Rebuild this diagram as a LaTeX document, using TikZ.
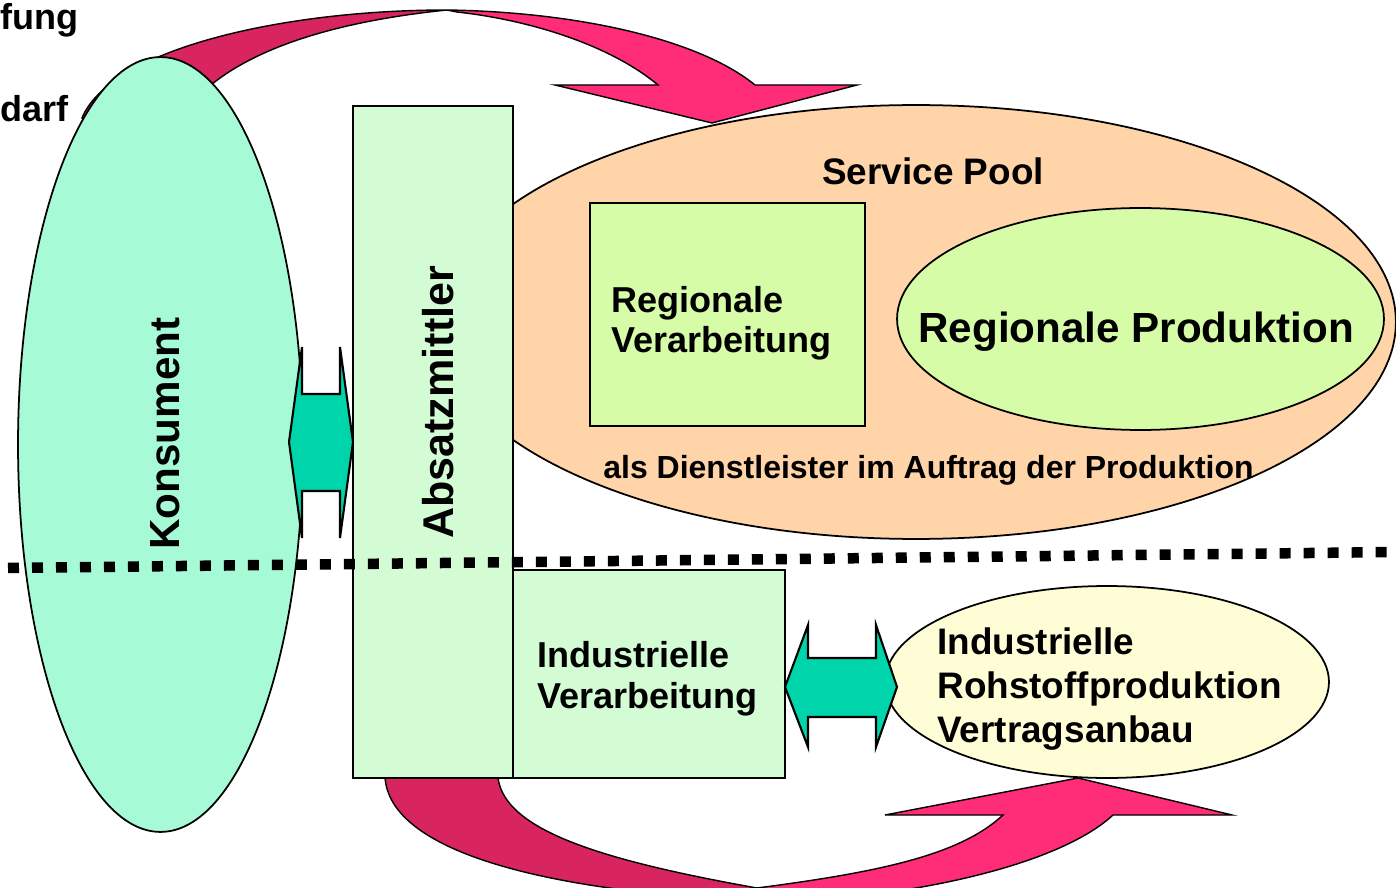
\documentclass[tikz,border=0pt]{standalone}
\usepackage{fontspec}
\setmainfont{Liberation Sans}
\usepackage{tikz}
\usetikzlibrary{shapes.geometric}
\definecolor{mint}{HTML}{A6FAD6}
\definecolor{palegreen}{HTML}{D4FCD4}
\definecolor{peach}{HTML}{FFD4A8}
\definecolor{limegreen}{HTML}{D6FCA8}
\definecolor{paleyellow}{HTML}{FFFDD6}
\definecolor{arrowteal}{HTML}{00D4AA}
\definecolor{flowpink}{HTML}{FF2C78}
\definecolor{flowdark}{HTML}{D8245F}

\begin{document}
\begin{tikzpicture}[
  x=0.02cm, y=-0.02cm,
  box/.style={draw, line width=0.8pt, inner sep=0pt, outer sep=0pt},
  oval/.style={ellipse, draw, line width=1pt, inner sep=0pt, outer sep=0pt},
  lbl/.style={inner sep=0pt, align=left, anchor=base west},
  txtS/.style={font=\fontsize{18.2}{21}\selectfont\bfseries},
  txtM/.style={font=\fontsize{20.5}{22.8}\selectfont\bfseries},
  txtL/.style={font=\fontsize{24}{28}\selectfont\bfseries},
  flowback/.style={draw, line width=0.8pt, fill=flowdark},
  flowfront/.style={draw, line width=0.8pt, fill=flowpink},
  blockarrow/.style={draw, line width=1.2pt, fill=arrowteal},
  sepline/.style={line width=0.21cm, dash pattern=on 0.22cm off 0.26cm},
]
\useasboundingbox (0,0) rectangle (1396,888);
\clip (0,0) rectangle (1396,888);

% upper flow arrow: back face, then front with head
\draw[flowback] (82,118) .. controls (110,50) and (280,10) .. (447,10)
  .. controls (330,22) and (250,50) .. (205,90) -- (160,150) -- cycle;
\draw[flowfront] (447,10) .. controls (580,12) and (700,40) .. (755,85)
  -- (857,85) -- (712,123) -- (555,85) -- (658,85)
  .. controls (610,45) and (530,20) .. (457,12) -- cycle;

% lower flow arrow
\draw[flowback] (385,770) -- (385,778) .. controls (390,840) and (500,880) .. (680,896)
  -- (780,900) -- (757,888) .. controls (600,860) and (505,830) .. (498,778) -- (498,770) -- cycle;
\draw[flowfront] (740,900) -- (757,888) .. controls (880,872) and (960,855) .. (1003,815)
  -- (885,815) -- (1078,778) -- (1232,815) -- (1113,815)
  .. controls (1070,855) and (960,890) .. (800,902) -- cycle;

% main blocks
\node[oval, fill=peach, minimum width=19.2cm, minimum height=8.68cm] (pool) at (916,322) {};
\node[oval, fill=mint, minimum width=5.7cm, minimum height=15.5cm] (konsument) at (160.5,444.5) {};
\node[box, fill=palegreen, minimum width=3.2cm, minimum height=13.44cm] (absatz) at (433,442) {};
\node[box, fill=limegreen, minimum width=5.5cm, minimum height=4.46cm] (regverarb) at (727.5,314.5) {};
\node[oval, fill=limegreen, minimum width=9.74cm, minimum height=4.44cm] (regprod) at (1140.5,319) {};
\node[box, fill=palegreen, minimum width=5.44cm, minimum height=4.16cm] (indverarb) at (649,674) {};
\node[oval, fill=paleyellow, minimum width=8.88cm, minimum height=3.84cm] (rohstoff) at (1107,682) {};

% labels (base = last line)
\node[lbl, txtM] (fung) at (0,30) {fung};
\node[lbl, txtM] (darf) at (0,122) {darf};
\node[lbl, font=\fontsize{21}{25}\selectfont\bfseries] (poollbl) at (822,185) {Service Pool};
\node[lbl, txtM] (regverarblbl) at (611,353) {Regionale\\Verarbeitung};
\node[lbl, txtL] (regprodlbl) at (918,343) {Regionale Produktion};
\node[lbl, txtS] (dienstlbl) at (603,478) {als Dienstleister im Auftrag der Produktion};
\node[lbl, txtL, rotate=90] (konsumentlbl) at (179,550) {Konsument};
\node[lbl, font=\fontsize{24.5}{28}\selectfont\bfseries, rotate=90] (absatzlbl) at (453,539) {Absatzmittler};
\node[lbl, txtM] (indverarblbl) at (537,708) {Industrielle\\Verarbeitung};
\node[lbl, font=\fontsize{21}{24.8}\selectfont\bfseries] (rohstofflbl) at (937,742) {Industrielle\\Rohstoffproduktion\\Vertragsanbau};

% block arrows
\draw[blockarrow] (289,442) -- (302,347) -- (302,394) -- (340,394) -- (340,347) -- (353,442)
  -- (340,538) -- (340,491) -- (302,491) -- (302,538) -- cycle;
\draw[blockarrow] (785,687) -- (808,625) -- (808,658) -- (876,658) -- (876,625) -- (897,687)
  -- (876,747) -- (876,717) -- (808,717) -- (808,747) -- cycle;

% separator
\coordinate (sepL) at (8,568);
\coordinate (sepR) at (1396,552);
\draw[sepline] (sepL) -- (sepR);
\end{tikzpicture}
\end{document}
